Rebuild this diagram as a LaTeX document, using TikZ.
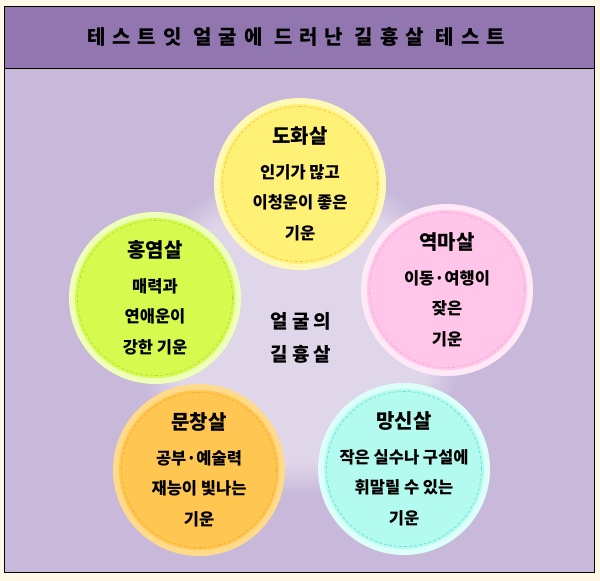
\documentclass[tikz,border=0pt]{standalone}
\usepackage{fontspec}
\usetikzlibrary{fadings}
\setmainfont{Noto Sans CJK KR}
\newfontfamily\hdrfont[LetterSpace=35]{Noto Sans CJK KR}
\newfontfamily\midfont[LetterSpace=20]{Noto Sans CJK KR}
\definecolor{bgc}{HTML}{FFF8E7}
\definecolor{hdrc}{HTML}{9176B0}
\definecolor{bodyc}{HTML}{C8B9DB}
\definecolor{glowc}{HTML}{E0D6EA}
\definecolor{yfill}{HTML}{FFF176}\definecolor{yring}{HTML}{FFF9B8}\definecolor{ydash}{HTML}{F5C242}
\definecolor{pfill}{HTML}{FFC6EA}\definecolor{pring}{HTML}{FFE9F7}\definecolor{pdash}{HTML}{FFA0D0}
\definecolor{gfill}{HTML}{D7FA4E}\definecolor{gring}{HTML}{EDFFB8}\definecolor{gdash}{HTML}{B0D83A}
\definecolor{ofill}{HTML}{FFC752}\definecolor{oring}{HTML}{FFDA8A}\definecolor{odash}{HTML}{F0AA20}
\definecolor{cfill}{HTML}{B4FBEF}\definecolor{cring}{HTML}{DDFFFA}\definecolor{cdash}{HTML}{5EDDD0}
\tikzset{
  ringc/.style={circle, minimum size=172pt, inner sep=0pt, fill=#1},
  innerc/.style={circle, minimum size=160pt, inner sep=0pt, fill=#1},
  dashc/.style={circle, minimum size=155pt, inner sep=0pt, draw=#1, dashed, line width=0.6pt, dash pattern=on 3pt off 2pt},
  txt/.style={align=center, font=\fontsize{16.5}{30.5}\selectfont\bfseries, inner sep=0pt},
  ttl/.style={font=\fontsize{20}{22}\selectfont\bfseries, inner sep=0pt},
}
\newcommand{\fortune}[9]{%
  \node[ringc=#4] (#1r) at (#2,#3) {};
  \node[innerc=#5] (#1) at (#2,#3) {};
  \node[dashc=#6] (#1d) at (#2,#3) {};
  \node[ttl] (#1t) at ([yshift=48pt]#1.center) {#7};
  \node[txt, anchor=north] (#1b) at ([yshift=20pt]#1.center) {#8\\#9};
}
\begin{document}
\begin{tikzpicture}[x=1pt,y=-1pt]
\useasboundingbox (0,0) rectangle (600,581);
\fill[bgc] (0,0) rectangle (600,581);
\fill[bodyc] (4,68) rectangle (594,572);
\fill[hdrc] (4,6) rectangle (594,68);
\fill[glowc, path fading=circle with fuzzy edge 20 percent] (300,330) circle (165);
\draw[line width=1pt] (4,6) rectangle (594,572);
\draw[line width=0.8pt] (4,68) -- (594,68);
\node[font=\hdrfont\fontsize{20}{22}\selectfont\bfseries] (title) at (296,37) {테스트잇 얼굴에 드러난 길흉살 테스트};
\node[font=\midfont\fontsize{19}{33}\selectfont\bfseries, align=center] (center) at (301,338) {얼굴의\\길흉살};
\fortune{dh}{300}{184}{yring}{yfill}{ydash}{도화살}{인기가 많고\\이청운이 좋은}{기운}
\fortune{ym}{447}{290}{pring}{pfill}{pdash}{역마살}{이동·여행이\\잦은}{기운}
\fortune{hy}{155}{298}{gring}{gfill}{gdash}{홍염살}{매력과\\연애운이}{강한 기운}
\fortune{mc}{199}{470}{oring}{ofill}{odash}{문창살}{공부·예술력\\재능이 빛나는}{기운}
\fortune{ms}{404}{469}{cring}{cfill}{cdash}{망신살}{작은 실수나 구설에\\휘말릴 수 있는}{기운}
\end{tikzpicture}
\end{document}
